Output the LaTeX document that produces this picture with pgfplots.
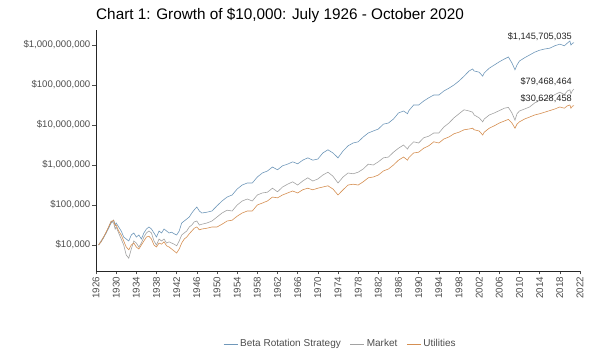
\documentclass[border=0pt]{standalone}
\usepackage{pgfplots}
\pgfplotsset{compat=1.18}
\usepackage{pgfplotstable}
\usepackage{fontspec}
\setmainfont{Liberation Sans}
\definecolor{cbeta}{HTML}{7098BA}
\definecolor{cmkt}{HTML}{A2A2A2}
\definecolor{cutil}{HTML}{D58F52}
\definecolor{ctick}{HTML}{4D4D4D}

\pgfplotstableread{
year blue market util
1926.5 1.00e4 1.00e4 1.00e4
1927 1.20e4 1.26e4 1.20e4
1927.5 1.51e4 1.58e4 1.58e4
1928 2.00e4 2.00e4 2.09e4
1928.5 2.63e4 2.82e4 2.82e4
1929 3.55e4 3.98e4 3.80e4
1929.5 4.17e4 3.55e4 4.17e4
1929.8 3.16e4 2.51e4 3.02e4
1930 3.55e4 2.82e4 3.16e4
1930.5 2.82e4 2.00e4 2.24e4
1931 2.24e4 1.41e4 1.78e4
1931.5 1.58e4 1.00e4 1.26e4
1932 1.41e4 5.62e3 8.91e3
1932.5 1.26e4 4.68e3 7.59e3
1933 1.78e4 7.94e3 1.00e4
1933.5 2.00e4 1.26e4 1.12e4
1934 1.58e4 1.12e4 8.91e3
1934.5 1.78e4 8.91e3 7.94e3
1935 1.41e4 1.12e4 1.00e4
1935.5 2.00e4 1.58e4 1.26e4
1936 2.51e4 2.00e4 1.58e4
1936.5 2.82e4 2.24e4 1.66e4
1937 2.51e4 2.00e4 1.41e4
1937.5 2.00e4 1.26e4 1.00e4
1938 1.58e4 1.00e4 8.91e3
1938.5 2.24e4 1.41e4 1.12e4
1939 2.00e4 1.26e4 1.05e4
1939.5 2.51e4 1.41e4 1.20e4
1940 2.24e4 1.12e4 9.55e3
1940.5 2.00e4 1.20e4 8.91e3
1941 2.09e4 1.12e4 7.94e3
1941.5 1.91e4 1.05e4 7.08e3
1942 1.78e4 9.55e3 6.31e3
1942.5 2.24e4 1.26e4 7.94e3
1943 3.55e4 1.78e4 1.12e4
1943.5 3.98e4 2.00e4 1.41e4
1944 4.47e4 2.24e4 1.58e4
1944.5 5.01e4 2.82e4 1.91e4
1945 6.31e4 3.16e4 2.24e4
1945.5 7.59e4 3.80e4 2.63e4
1946 8.91e4 3.98e4 2.82e4
1946.5 7.08e4 3.16e4 2.40e4
1947 6.31e4 3.31e4 2.51e4
1948 6.61e4 3.55e4 2.63e4
1949 7.08e4 3.98e4 2.82e4
1950 9.55e4 5.01e4 2.82e4
1951 1.26e5 6.31e4 3.31e4
1952 1.58e5 7.41e4 3.98e4
1953 1.78e5 7.08e4 4.17e4
1954 2.51e5 1.00e5 5.25e4
1955 3.16e5 1.26e5 6.31e4
1956 3.55e5 1.41e5 7.08e4
1957 3.55e5 1.26e5 7.08e4
1958 5.01e5 1.78e5 1.00e5
1959 6.31e5 2.00e5 1.12e5
1960 7.08e5 2.09e5 1.26e5
1961 8.91e5 2.63e5 1.58e5
1962 7.59e5 2.14e5 1.51e5
1963 9.55e5 2.82e5 1.78e5
1964 1.05e6 3.31e5 2.00e5
1965 1.20e6 3.80e5 2.24e5
1966 1.07e6 3.16e5 2.00e5
1967 1.32e6 3.98e5 2.40e5
1968 1.51e6 4.79e5 2.63e5
1969 1.32e6 3.98e5 2.40e5
1970 1.41e6 4.47e5 2.63e5
1971 2.00e6 5.62e5 2.82e5
1972 2.40e6 6.61e5 3.02e5
1973 2.00e6 5.25e5 2.51e5
1974 1.51e6 3.55e5 1.78e5
1975 2.24e6 5.01e5 2.40e5
1976 3.02e6 6.31e5 3.16e5
1977 3.55e6 6.03e5 3.31e5
1978 3.80e6 6.61e5 3.16e5
1979 5.01e6 7.94e5 3.80e5
1980 6.31e6 1.05e6 4.79e5
1981 7.08e6 1.00e6 5.01e5
1982 7.94e6 1.20e6 5.62e5
1983 1.05e7 1.51e6 7.08e5
1984 1.12e7 1.58e6 7.94e5
1985 1.41e7 2.09e6 1.00e6
1986 2.00e7 2.63e6 1.32e6
1987 2.24e7 3.16e6 1.58e6
1987.8 1.91e7 2.51e6 1.32e6
1988 2.24e7 2.82e6 1.51e6
1989 3.16e7 3.80e6 2.00e6
1990 3.16e7 3.55e6 2.09e6
1991 3.98e7 4.79e6 2.63e6
1992 4.79e7 5.25e6 3.02e6
1993 5.62e7 6.31e6 3.80e6
1994 5.62e7 6.31e6 3.55e6
1995 7.08e7 8.91e6 4.47e6
1996 8.32e7 1.12e7 5.01e6
1997 1.00e8 1.51e7 6.03e6
1998 1.26e8 1.91e7 6.61e6
1999 1.66e8 2.40e7 7.59e6
2000 2.24e8 2.24e7 7.94e6
2000.7 2.51e8 2.09e7 8.32e6
2001 2.24e8 1.78e7 7.59e6
2002 2.09e8 1.51e7 7.08e6
2002.7 1.66e8 1.20e7 5.62e6
2003 2.00e8 1.41e7 6.61e6
2004 2.63e8 1.78e7 8.32e6
2005 3.16e8 2.00e7 9.55e6
2006 3.80e8 2.29e7 1.12e7
2007 4.47e8 2.63e7 1.26e7
2007.8 5.01e8 2.75e7 1.38e7
2008.5 3.55e8 2.00e7 1.12e7
2009.1 2.40e8 1.32e7 8.32e6
2009.5 3.16e8 1.91e7 1.05e7
2010 3.98e8 2.24e7 1.20e7
2011 4.79e8 2.51e7 1.41e7
2012 5.62e8 2.82e7 1.58e7
2013 6.61e8 3.55e7 1.78e7
2014 7.41e8 4.17e7 1.91e7
2015 7.94e8 4.37e7 2.09e7
2016 8.32e8 4.79e7 2.29e7
2017 9.55e8 5.75e7 2.51e7
2018 1.05e9 6.61e7 2.82e7
2018.9 9.55e8 5.75e7 2.63e7
2019.5 1.12e9 7.08e7 3.02e7
2020 1.26e9 7.59e7 3.16e7
2020.2 1.00e9 6.03e7 2.63e7
2020.5 1.10e9 7.24e7 2.95e7
2020.8 1.146e9 7.95e7 3.06e7
}\growth

\begin{document}
\begin{tikzpicture}
\begin{axis}[
  scale only axis,
  width=484pt, height=241pt,
  ymode=log,
  xmin=1926, xmax=2022,
  ymin=2240, ymax=2.37e9,
  axis x line*=bottom, axis y line*=left,
  axis line style={draw=black!85, line width=0.8pt},
  tick align=outside,
  major tick length=3.5pt,
  tick style={draw=black!70, line width=0.5pt},
  xtick={1926,1930,...,2022},
  xticklabels={1926,1930,1934,1938,1942,1946,1950,1954,1958,1962,1966,1970,1974,1978,1982,1986,1990,1994,1998,2002,2006,2010,2014,2018,2022},
  x tick label style={rotate=90, anchor=east, font=\fontsize{9.8}{11}\selectfont, text=ctick, inner sep=2pt},
  ytick={1e4,1e5,1e6,1e7,1e8,1e9},
  yticklabels={{\$10,000},{\$100,000},{\$1,000,000},{\$10,000,000},{\$100,000,000},{\$1,000,000,000}},
  y tick label style={font=\fontsize{9.6}{11}\selectfont, text=ctick, inner sep=2pt},
  yminorticks=false,
  legend style={draw=none, at={(0.505,-0.303)}, anchor=center, legend columns=3,
    font=\fontsize{10}{12}\selectfont,
    /tikz/every even column/.append style={column sep=7pt}},
  legend image code/.code={\draw[#1, line width=1pt] (0pt,0pt) -- (14pt,0pt);},
  clip=false,
]
\addplot[color=cbeta, line width=0.6pt] table[x=year, y=blue] {\growth};
\addlegendentry{\textcolor{ctick}{Beta Rotation Strategy}}
\addplot[color=cmkt, line width=0.6pt] table[x=year, y=market] {\growth};
\addlegendentry{\textcolor{ctick}{Market}}
\addplot[color=cutil, line width=0.6pt] table[x=year, y=util] {\growth};
\addlegendentry{\textcolor{ctick}{Utilities}}
\node[anchor=south east, inner sep=1pt, font=\fontsize{9.2}{10}\selectfont, text=black!85] at (axis cs:2020.6,1.2e9) {\$1,145,705,035};
\node[anchor=south east, inner sep=1pt, font=\fontsize{9.2}{10}\selectfont, text=black!85] at (axis cs:2020.6,9.0e7) {\$79,468,464};
\node[anchor=south east, inner sep=1pt, font=\fontsize{9.2}{10}\selectfont, text=black!85] at (axis cs:2020.6,3.4e7) {\$30,628,458};
\end{axis}
\node[anchor=west, inner sep=0pt, font=\fontsize{15.3}{18}\selectfont] at ([yshift=15pt]current axis.north west) {Chart 1: Growth of \$10,000: July 1926 - October 2020};
\pgfresetboundingbox
\path[use as bounding box] ([xshift=-96pt,yshift=-88pt]current axis.south west) rectangle ++(600pt,359pt);
\end{tikzpicture}
\end{document}
